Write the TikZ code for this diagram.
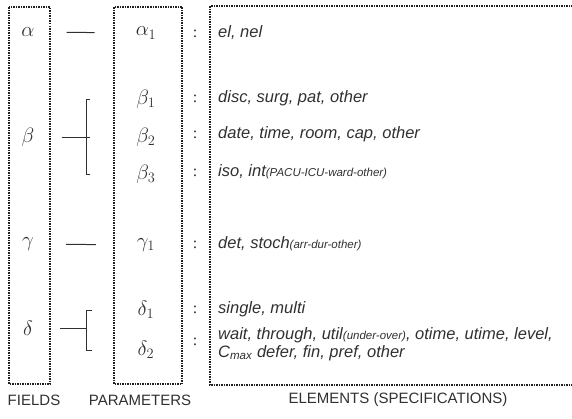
\documentclass[tikz,border=0pt]{standalone}
\usepackage{fontspec}
\setmainfont{Liberation Serif}
\setsansfont{Liberation Sans}
\definecolor{frame}{HTML}{202020}
\definecolor{ink}{HTML}{303030}

\begin{document}
\begin{tikzpicture}[x=1pt, y=-1pt,
    column/.style={frame, densely dotted, line width=1.5pt},
    sym/.style={ink, inner sep=0pt, font=\fontsize{20}{24}\selectfont},
    spec/.style={ink, anchor=west, inner sep=0pt, font=\sffamily\itshape\fontsize{16.5}{19}\selectfont},
    caption/.style={ink, inner sep=0pt, font=\sffamily\fontsize{15}{18}\selectfont},
    link/.style={ink, line width=1pt}]

\useasboundingbox (0,0) rectangle (572,418);

% Dotted columns
\draw[column] (9,7) rectangle (50,384);
\draw[column] (114,7) rectangle (182,384);
\draw[column] (575,6) -- (210,6) -- (210,385) -- (575,385);

% Fields
\node[sym] (fa) at (28,32) {$\alpha$};
\node[sym] (fb) at (28,137) {$\beta$};
\node[sym] (fg) at (28,244) {$\gamma$};
\node[sym] (fd) at (28,328) {$\delta$};

% Parameters
\node[sym] (pa1) at (146,33) {$\alpha_1$};
\node[sym] (pb1) at (146,99) {$\beta_1$};
\node[sym] (pb2) at (146,137) {$\beta_2$};
\node[sym] (pb3) at (146,174) {$\beta_3$};
\node[sym] (pg1) at (146,245) {$\gamma_1$};
\node[sym] (pd1) at (146,310) {$\delta_1$};
\node[sym] (pd2) at (146,350) {$\delta_2$};

% Branch points
\coordinate (bj) at (86,137);
\coordinate (dj) at (86,328);

% Connectors
\draw[link, shorten <=32pt, shorten >=41pt] (fa) -- (pa1);
\draw[link, shorten <=32pt, shorten >=41pt] (fg) -- (pg1);
\draw[link, shorten <=27pt, shorten >=46pt] (fb) -- (pb2);
\draw[link, shorten <=46pt] (pb1) -| (bj);
\draw[link, shorten <=46pt] (pb3) -| (bj);
\draw[link, shorten <=27pt] (fd) -- (dj);
\draw[link, shorten <=46pt] (pd1) -| (dj);
\draw[link, shorten <=46pt] (pd2) -| (dj);

% Colons
\foreach \y [count=\i] in {34,99,135,173,245,310,342} {
    \node[ink, inner sep=0pt, font=\fontsize{16}{18}\selectfont] (c\i) at (195,\y) {:};
}

% Elements
\node[spec] (ea) at (218,33) {el, nel};
\node[spec] (eb1) at (218,98) {disc, surg, pat, other};
\node[spec] (eb2) at (218,134) {date, time, room, cap, other};
\node[spec] (eb3) at (218,172) {iso, int{\fontsize{11.5}{13}\selectfont(PACU-ICU-ward-other)}};
\node[spec] (eg1) at (218,244) {det, stoch{\fontsize{11.5}{13}\selectfont(arr-dur-other)}};
\node[spec] (ed1) at (218,309) {single, multi};
\node[spec] (ed2) at (218,335) {wait, through, util{\fontsize{11.5}{13}\selectfont(under-over)}, otime, utime, level,};
\node[spec] (ed2b) at (218,353) {C\textsubscript{max} defer, fin, pref, other};

% Column captions
\node[caption] (capf) at (34,400) {FIELDS};
\node[caption] (capp) at (140,400) {PARAMETERS};
\node[caption] (cape) at (398,400) {ELEMENTS (SPECIFICATIONS)};

\end{tikzpicture}
\end{document}
